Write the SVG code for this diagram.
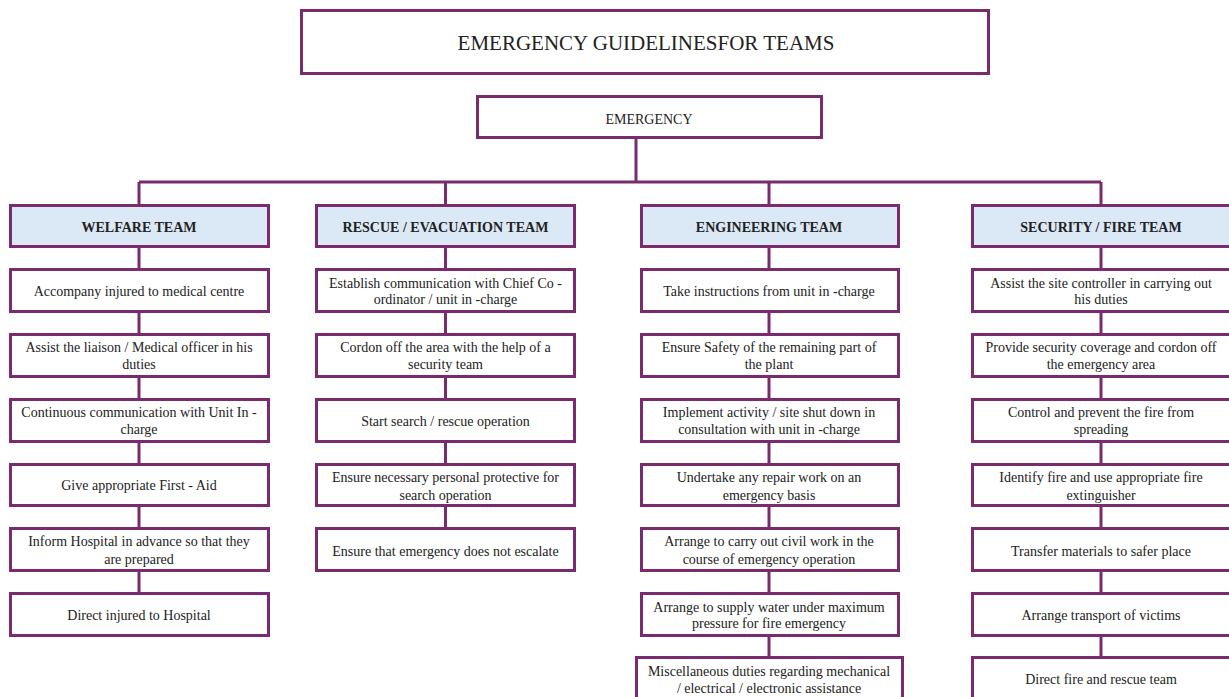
<svg xmlns="http://www.w3.org/2000/svg" width="1229" height="697" viewBox="0 0 1229 697">
  <style>
    .box { fill: #ffffff; stroke: #7a2a6e; stroke-width: 3; }
    .head { fill: #dbe8f5; stroke: #7a2a6e; stroke-width: 3; }
    .link { fill: none; stroke: #7a2a6e; stroke-width: 3; }
    text { font-family: "Liberation Serif", "Times New Roman", serif; fill: #222222; text-anchor: middle; }
    .t { font-size: 14px; }
    .h { font-size: 14px; font-weight: bold; }
    .title { font-size: 21px; }
  </style>

  <!-- connectors -->
  <g id="connectors" class="link">
    <path d="M636 138 V182 M139 182 H1101 M139 182 V205 M445.5 182 V205 M769 182 V205 M1101 182 V205"/>
    <path d="M139 247 V593"/>
    <path d="M445.5 247 V528"/>
    <path d="M769 247 V657"/>
    <path d="M1101 247 V657"/>
  </g>

  <g id="title">
    <rect class="box" x="301.5" y="10.5" width="687" height="63"/>
    <text class="title" x="646" y="50">EMERGENCY GUIDELINESFOR TEAMS</text>
  </g>

  <g id="emergency">
    <rect class="box" x="477.5" y="96.5" width="344" height="41"/>
    <text class="t" x="649" y="124">EMERGENCY</text>
  </g>

  <!-- welfare team -->
  <g id="welfare-team">
    <rect class="head" x="10.5" y="205.5" width="258" height="41"/>
    <text class="h" x="139" y="232">WELFARE TEAM</text>
  </g>
  <g id="welfare-1">
    <rect class="box" x="10.5" y="269.5" width="258" height="42"/>
    <text class="t" x="139" y="296">Accompany injured to medical centre</text>
  </g>
  <g id="welfare-2">
    <rect class="box" x="10.5" y="334.5" width="258" height="42"/>
    <text class="t" x="139" y="352">Assist the liaison / Medical officer in his</text>
    <text class="t" x="139" y="369">duties</text>
  </g>
  <g id="welfare-3">
    <rect class="box" x="10.5" y="399.5" width="258" height="42"/>
    <text class="t" x="139" y="417">Continuous communication with Unit In -</text>
    <text class="t" x="139" y="434">charge</text>
  </g>
  <g id="welfare-4">
    <rect class="box" x="10.5" y="464.5" width="258" height="41"/>
    <text class="t" x="139" y="490">Give appropriate First - Aid</text>
  </g>
  <g id="welfare-5">
    <rect class="box" x="10.5" y="528.5" width="258" height="42"/>
    <text class="t" x="139" y="546">Inform Hospital in advance so that they</text>
    <text class="t" x="139" y="564">are prepared</text>
  </g>
  <g id="welfare-6">
    <rect class="box" x="10.5" y="593.5" width="258" height="42"/>
    <text class="t" x="139" y="620">Direct injured to Hospital</text>
  </g>

  <!-- rescue / evacuation team -->
  <g id="rescue-team">
    <rect class="head" x="316.5" y="205.5" width="258" height="41"/>
    <text class="h" x="445.5" y="232">RESCUE / EVACUATION TEAM</text>
  </g>
  <g id="rescue-1">
    <rect class="box" x="316.5" y="269.5" width="258" height="42"/>
    <text class="t" x="445.5" y="288">Establish communication with Chief Co -</text>
    <text class="t" x="445.5" y="304">ordinator / unit in -charge</text>
  </g>
  <g id="rescue-2">
    <rect class="box" x="316.5" y="334.5" width="258" height="42"/>
    <text class="t" x="445.5" y="352">Cordon off the area with the help of a</text>
    <text class="t" x="445.5" y="369">security team</text>
  </g>
  <g id="rescue-3">
    <rect class="box" x="316.5" y="399.5" width="258" height="42"/>
    <text class="t" x="445.5" y="426">Start search / rescue operation</text>
  </g>
  <g id="rescue-4">
    <rect class="box" x="316.5" y="464.5" width="258" height="41"/>
    <text class="t" x="445.5" y="482">Ensure necessary personal protective for</text>
    <text class="t" x="445.5" y="500">search operation</text>
  </g>
  <g id="rescue-5">
    <rect class="box" x="316.5" y="528.5" width="258" height="42"/>
    <text class="t" x="445.5" y="556">Ensure that emergency does not escalate</text>
  </g>

  <!-- engineering team -->
  <g id="engineering-team">
    <rect class="head" x="641.5" y="205.5" width="257" height="41"/>
    <text class="h" x="769" y="232">ENGINEERING TEAM</text>
  </g>
  <g id="engineering-1">
    <rect class="box" x="641.5" y="269.5" width="257" height="42"/>
    <text class="t" x="769" y="296">Take instructions from unit in -charge</text>
  </g>
  <g id="engineering-2">
    <rect class="box" x="641.5" y="334.5" width="257" height="42"/>
    <text class="t" x="769" y="352">Ensure Safety of the remaining part of</text>
    <text class="t" x="769" y="369">the plant</text>
  </g>
  <g id="engineering-3">
    <rect class="box" x="641.5" y="399.5" width="257" height="42"/>
    <text class="t" x="769" y="417">Implement activity / site shut down in</text>
    <text class="t" x="769" y="434">consultation with unit in -charge</text>
  </g>
  <g id="engineering-4">
    <rect class="box" x="641.5" y="464.5" width="257" height="41"/>
    <text class="t" x="769" y="482">Undertake any repair work on an</text>
    <text class="t" x="769" y="500">emergency basis</text>
  </g>
  <g id="engineering-5">
    <rect class="box" x="641.5" y="528.5" width="257" height="42"/>
    <text class="t" x="769" y="546">Arrange to carry out civil work  in the</text>
    <text class="t" x="769" y="564">course of emergency operation</text>
  </g>
  <g id="engineering-6">
    <rect class="box" x="641.5" y="593.5" width="257" height="42"/>
    <text class="t" x="769" y="612">Arrange to supply water under maximum</text>
    <text class="t" x="769" y="628">pressure for fire emergency</text>
  </g>
  <g id="engineering-7">
    <rect class="box" x="636.5" y="657.5" width="266" height="44"/>
    <text class="t" x="769" y="676">Miscellaneous duties regarding mechanical</text>
    <text class="t" x="769" y="693">/ electrical / electronic assistance</text>
  </g>

  <!-- security / fire team -->
  <g id="security-team">
    <rect class="head" x="972.5" y="205.5" width="258" height="41"/>
    <text class="h" x="1101" y="232">SECURITY / FIRE TEAM</text>
  </g>
  <g id="security-1">
    <rect class="box" x="972.5" y="269.5" width="258" height="42"/>
    <text class="t" x="1101" y="288">Assist the site controller in carrying out</text>
    <text class="t" x="1101" y="304">his duties</text>
  </g>
  <g id="security-2">
    <rect class="box" x="972.5" y="334.5" width="258" height="42"/>
    <text class="t" x="1101" y="352">Provide security coverage and cordon off</text>
    <text class="t" x="1101" y="369">the emergency area</text>
  </g>
  <g id="security-3">
    <rect class="box" x="972.5" y="399.5" width="258" height="42"/>
    <text class="t" x="1101" y="417">Control and prevent the fire from</text>
    <text class="t" x="1101" y="434">spreading</text>
  </g>
  <g id="security-4">
    <rect class="box" x="972.5" y="464.5" width="258" height="41"/>
    <text class="t" x="1101" y="482">Identify fire and use appropriate fire</text>
    <text class="t" x="1101" y="500">extinguisher</text>
  </g>
  <g id="security-5">
    <rect class="box" x="972.5" y="528.5" width="258" height="42"/>
    <text class="t" x="1101" y="556">Transfer materials to safer place</text>
  </g>
  <g id="security-6">
    <rect class="box" x="972.5" y="593.5" width="258" height="42"/>
    <text class="t" x="1101" y="620">Arrange transport of victims</text>
  </g>
  <g id="security-7">
    <rect class="box" x="972.5" y="657.5" width="258" height="44"/>
    <text class="t" x="1101" y="684">Direct fire and rescue team</text>
  </g>
</svg>
